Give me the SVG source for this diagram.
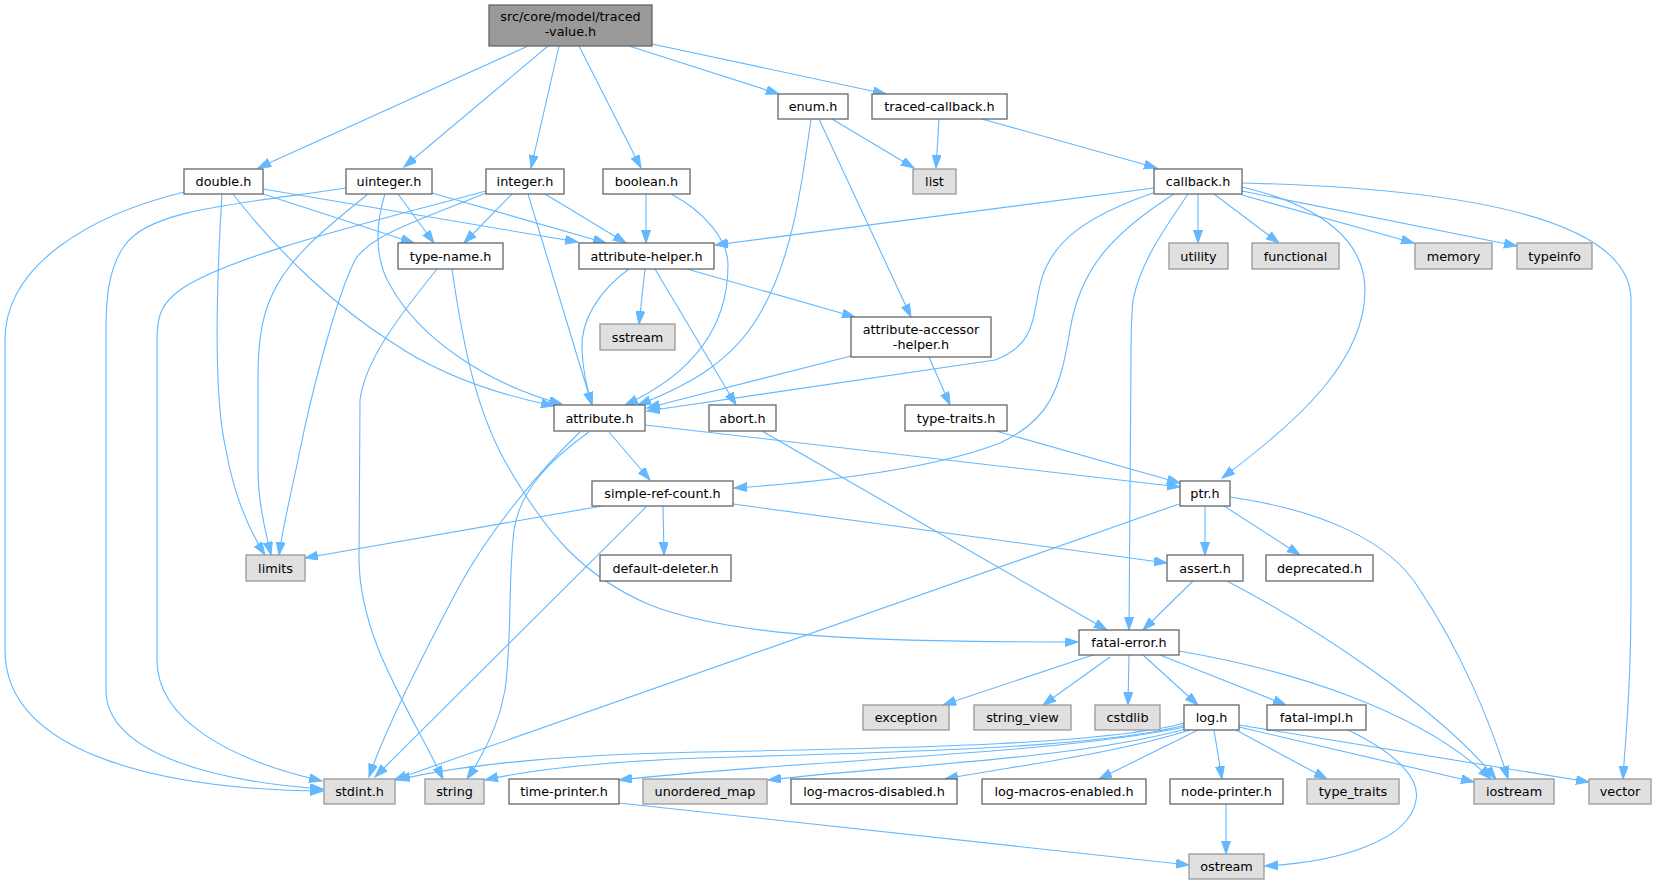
<svg xmlns="http://www.w3.org/2000/svg" width="1656" height="885" viewBox="0 0 1656 885">
<defs>
<marker id="ah" markerUnits="userSpaceOnUse" markerWidth="14" markerHeight="10" refX="13" refY="4.5" orient="auto">
<path d="M0,0 L13,4.5 L0,9 z" fill="#63b8ff" stroke="#63b8ff" stroke-width="1"/>
</marker>
<style>
.n rect{fill:#ffffff;stroke:#666666;stroke-width:1.3}
.g rect{fill:#e0e0e0;stroke:#999999;stroke-width:1.3}
.r rect{fill:#999999;stroke:#666666;stroke-width:1.3}
text{font-family:"DejaVu Sans","Liberation Sans",sans-serif;font-size:12.8px;text-anchor:middle;fill:#000000}
#edges path{fill:none;stroke:#63b8ff;stroke-width:1.1;marker-end:url(#ah)}
</style>
</defs>
<rect width="1656" height="885" fill="#ffffff"/>
<g id="edges">
<path d="M528,46 L258,168"/>
<path d="M548,46 L404,167"/>
<path d="M559,46 L531,168"/>
<path d="M579,46 L641,168"/>
<path d="M629,46 L779,94"/>
<path d="M652,44 L886,94"/>
<path d="M832,119 L914,168"/>
<path d="M811,119 C800,200 790,260 762,310 C735,360 690,385 638,405"/>
<path d="M819,119 L911,317"/>
<path d="M939,119 L936,168"/>
<path d="M982,119 L1157,168"/>
<path d="M184,192 C90,215 5,265 5,340 L5,650 C5,760 180,790 323,791"/>
<path d="M222,194 C218,260 212,390 226,450 C233,490 246,525 265,555"/>
<path d="M233,194 C280,255 340,310 393,343 C440,375 500,395 554,406"/>
<path d="M263,194 L414,243"/>
<path d="M263,189 L578,242"/>
<path d="M346,188 C230,205 150,210 125,245 C108,268 106,300 106,330 L106,690 C106,755 220,782 323,789"/>
<path d="M368,194 C330,225 290,255 272,295 C260,320 258,350 258,380 L258,470 C258,500 265,530 271,555"/>
<path d="M398,194 L434,243"/>
<path d="M385,194 C375,225 375,260 390,285 C420,340 490,385 562,404"/>
<path d="M432,193 L606,243"/>
<path d="M486,191 C380,220 230,255 180,290 C162,303 157,315 157,340 L157,660 C157,720 230,760 322,781"/>
<path d="M486,193 C420,220 370,235 355,260 C335,300 310,400 300,450 C292,490 283,525 279,555"/>
<path d="M512,194 L464,243"/>
<path d="M528,194 L592,405"/>
<path d="M545,194 L626,243"/>
<path d="M646,194 L646,243"/>
<path d="M671,194 C705,212 728,240 728,265 C728,330 690,375 625,405"/>
<path d="M437,269 C400,315 365,360 360,400 L359,560 C360,640 410,710 443,779"/>
<path d="M452,269 C465,360 480,420 510,470 C545,530 580,575 650,605 C740,640 900,642 1078,642"/>
<path d="M645,269 L639,324"/>
<path d="M629,269 C600,290 580,320 582,350 C583,375 588,392 592,405"/>
<path d="M655,269 L736,405"/>
<path d="M687,269 L855,317"/>
<path d="M851,356 L647,408"/>
<path d="M929,357 L950,405"/>
<path d="M1154,188 L715,245"/>
<path d="M1153,193 C1090,215 1050,240 1040,285 C1032,320 1035,345 995,360 L647,411"/>
<path d="M1174,194 C1110,235 1080,270 1070,330 C1060,390 1050,420 1000,443 C930,470 820,482 734,488"/>
<path d="M1188,194 C1160,235 1140,265 1133,300 C1131,320 1131,340 1131,360 L1129,630"/>
<path d="M1198,194 L1198,243"/>
<path d="M1214,194 L1279,243"/>
<path d="M1242,195 L1414,243"/>
<path d="M1242,191 L1517,246"/>
<path d="M1242,187 C1320,205 1365,240 1365,290 C1365,360 1300,420 1222,478"/>
<path d="M1242,183 C1450,188 1631,215 1631,300 L1631,600 C1631,700 1625,740 1623,779"/>
<path d="M580,432 C540,470 490,530 460,585 C420,660 385,730 369,777"/>
<path d="M589,432 C550,460 520,490 514,530 C508,580 512,640 505,690 C498,730 480,760 467,779"/>
<path d="M609,432 L650,480"/>
<path d="M645,425 L1180,487"/>
<path d="M762,431 L1107,630"/>
<path d="M996,431 L1180,483"/>
<path d="M602,506 L305,558"/>
<path d="M646,507 L375,777"/>
<path d="M663,506 L664,555"/>
<path d="M733,504 L1167,563"/>
<path d="M1179,504 L394,780"/>
<path d="M1205,506 L1205,555"/>
<path d="M1224,506 L1300,555"/>
<path d="M1230,497 C1320,510 1390,540 1420,590 C1460,650 1490,720 1508,779"/>
<path d="M1193,581 L1143,630"/>
<path d="M1227,581 C1320,630 1440,710 1496,779"/>
<path d="M1093,655 L943,705"/>
<path d="M1110,657 L1043,705"/>
<path d="M1129,655 L1128,705"/>
<path d="M1143,655 L1198,705"/>
<path d="M1160,655 L1286,705"/>
<path d="M1179,651 C1290,670 1420,710 1491,779"/>
<path d="M1185,723 C1100,745 900,748 700,752 C560,755 460,765 397,780"/>
<path d="M1185,725 C1100,748 900,752 700,758 C600,762 530,770 485,780"/>
<path d="M1185,727 C1050,755 800,760 619,780"/>
<path d="M1186,729 C1070,760 900,765 768,780"/>
<path d="M1190,730 C1110,755 1020,765 945,779"/>
<path d="M1198,730 L1099,779"/>
<path d="M1214,730 L1222,779"/>
<path d="M1236,730 L1327,779"/>
<path d="M1239,727 L1474,782"/>
<path d="M1239,725 L1589,782"/>
<path d="M1348,730 C1400,755 1420,780 1416,800 C1410,840 1340,862 1265,866"/>
<path d="M1226,804 L1226,854"/>
<path d="M619,803 L1189,865"/>
</g>
<g id="node-traced-value" class="r"><rect x="489" y="5" width="163" height="41"/><text x="570.5" y="21">src/core/model/traced</text><text x="570.5" y="36">-value.h</text></g>
<g id="node-enum" class="n"><rect x="778" y="94" width="70" height="25"/><text x="813" y="111">enum.h</text></g>
<g id="node-traced-callback" class="n"><rect x="872" y="94" width="135" height="25"/><text x="939.5" y="111">traced-callback.h</text></g>
<g id="node-double" class="n"><rect x="184" y="169" width="79" height="25"/><text x="223.5" y="186">double.h</text></g>
<g id="node-uinteger" class="n"><rect x="346" y="169" width="86" height="25"/><text x="389" y="186">uinteger.h</text></g>
<g id="node-integer" class="n"><rect x="486" y="169" width="78" height="25"/><text x="525" y="186">integer.h</text></g>
<g id="node-boolean" class="n"><rect x="603" y="169" width="87" height="25"/><text x="646.5" y="186">boolean.h</text></g>
<g id="node-list" class="g"><rect x="913" y="169" width="43" height="25"/><text x="934.5" y="186">list</text></g>
<g id="node-callback" class="n"><rect x="1154" y="169" width="88" height="25"/><text x="1198" y="186">callback.h</text></g>
<g id="node-type-name" class="n"><rect x="398" y="243" width="105" height="26"/><text x="450.5" y="260.5">type-name.h</text></g>
<g id="node-attribute-helper" class="n"><rect x="579" y="243" width="135" height="26"/><text x="646.5" y="260.5">attribute-helper.h</text></g>
<g id="node-utility" class="g"><rect x="1169" y="243" width="59" height="26"/><text x="1198.5" y="260.5">utility</text></g>
<g id="node-functional" class="g"><rect x="1252" y="243" width="87" height="26"/><text x="1295.5" y="260.5">functional</text></g>
<g id="node-memory" class="g"><rect x="1415" y="243" width="77" height="26"/><text x="1453.5" y="260.5">memory</text></g>
<g id="node-typeinfo" class="g"><rect x="1517" y="243" width="75" height="26"/><text x="1554.5" y="260.5">typeinfo</text></g>
<g id="node-sstream" class="g"><rect x="600" y="324" width="75" height="26"/><text x="637.5" y="341.5">sstream</text></g>
<g id="node-attribute-accessor-helper" class="n"><rect x="851" y="317" width="140" height="40"/><text x="921" y="334">attribute-accessor</text><text x="921" y="349">-helper.h</text></g>
<g id="node-attribute" class="n"><rect x="554" y="405" width="91" height="26"/><text x="599.5" y="422.5">attribute.h</text></g>
<g id="node-abort" class="n"><rect x="709" y="405" width="67" height="26"/><text x="742.5" y="422.5">abort.h</text></g>
<g id="node-type-traits" class="n"><rect x="905" y="405" width="102" height="26"/><text x="956" y="422.5">type-traits.h</text></g>
<g id="node-simple-ref-count" class="n"><rect x="592" y="481" width="141" height="25"/><text x="662.5" y="498">simple-ref-count.h</text></g>
<g id="node-ptr" class="n"><rect x="1180" y="481" width="50" height="25"/><text x="1205" y="498">ptr.h</text></g>
<g id="node-limits" class="g"><rect x="246" y="555" width="59" height="26"/><text x="275.5" y="572.5">limits</text></g>
<g id="node-default-deleter" class="n"><rect x="600" y="555" width="131" height="26"/><text x="665.5" y="572.5">default-deleter.h</text></g>
<g id="node-assert" class="n"><rect x="1167" y="555" width="76" height="26"/><text x="1205" y="572.5">assert.h</text></g>
<g id="node-deprecated" class="n"><rect x="1266" y="555" width="107" height="26"/><text x="1319.5" y="572.5">deprecated.h</text></g>
<g id="node-fatal-error" class="n"><rect x="1079" y="630" width="100" height="25"/><text x="1129" y="647">fatal-error.h</text></g>
<g id="node-exception" class="g"><rect x="863" y="705" width="86" height="25"/><text x="906" y="722">exception</text></g>
<g id="node-string_view" class="g"><rect x="974" y="705" width="97" height="25"/><text x="1022.5" y="722">string_view</text></g>
<g id="node-cstdlib" class="g"><rect x="1095" y="705" width="65" height="25"/><text x="1127.5" y="722">cstdlib</text></g>
<g id="node-log" class="n"><rect x="1184" y="705" width="55" height="25"/><text x="1211.5" y="722">log.h</text></g>
<g id="node-fatal-impl" class="n"><rect x="1267" y="705" width="99" height="25"/><text x="1316.5" y="722">fatal-impl.h</text></g>
<g id="node-stdint" class="g"><rect x="324" y="779" width="71" height="25"/><text x="359.5" y="796">stdint.h</text></g>
<g id="node-string" class="g"><rect x="425" y="779" width="59" height="25"/><text x="454.5" y="796">string</text></g>
<g id="node-time-printer" class="n"><rect x="509" y="779" width="110" height="25"/><text x="564" y="796">time-printer.h</text></g>
<g id="node-unordered_map" class="g"><rect x="643" y="779" width="124" height="25"/><text x="705" y="796">unordered_map</text></g>
<g id="node-log-macros-disabled" class="n"><rect x="791" y="779" width="166" height="25"/><text x="874" y="796">log-macros-disabled.h</text></g>
<g id="node-log-macros-enabled" class="n"><rect x="982" y="779" width="164" height="25"/><text x="1064" y="796">log-macros-enabled.h</text></g>
<g id="node-node-printer" class="n"><rect x="1170" y="779" width="113" height="25"/><text x="1226.5" y="796">node-printer.h</text></g>
<g id="node-type_traits" class="g"><rect x="1307" y="779" width="92" height="25"/><text x="1353" y="796">type_traits</text></g>
<g id="node-iostream" class="g"><rect x="1474" y="779" width="80" height="25"/><text x="1514" y="796">iostream</text></g>
<g id="node-vector" class="g"><rect x="1589" y="779" width="62" height="25"/><text x="1620" y="796">vector</text></g>
<g id="node-ostream" class="g"><rect x="1189" y="854" width="75" height="25"/><text x="1226.5" y="871">ostream</text></g>
</svg>
